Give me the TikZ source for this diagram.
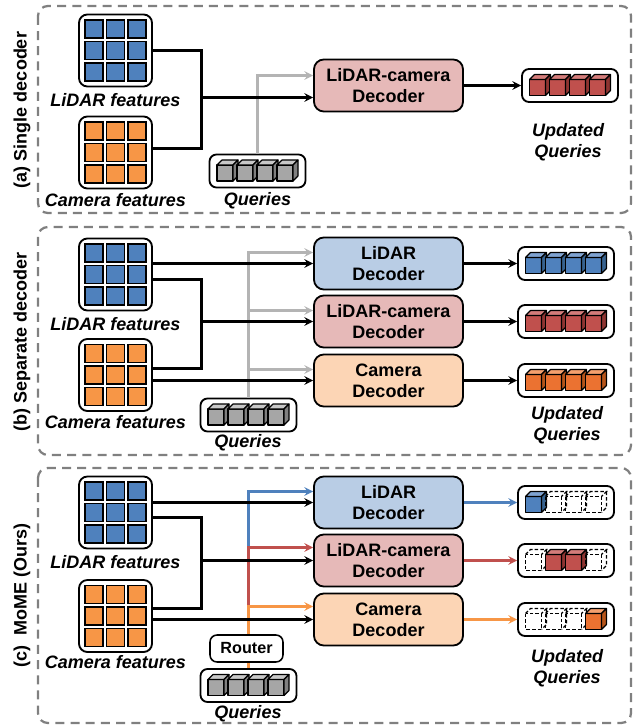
\documentclass[tikz,border=0pt]{standalone}
\usepackage{fontspec}
\setmainfont{Liberation Sans}

\definecolor{lidblue}{HTML}{4F81BD}
\definecolor{camorange}{HTML}{F79646}
\definecolor{fusered}{HTML}{C0504D}
\definecolor{decblue}{HTML}{B9CDE5}
\definecolor{decred}{HTML}{E6B9B8}
\definecolor{decorange}{HTML}{FCD5B5}
\definecolor{qgray}{HTML}{A6A6A6}
\definecolor{qgraylt}{HTML}{C8C8C8}
\definecolor{qgraydk}{HTML}{808080}
\definecolor{arrgray}{HTML}{B4B4B4}
\definecolor{lidbluelt}{HTML}{7FA3D1}
\definecolor{lidbluedk}{HTML}{36628F}
\definecolor{fuseredlt}{HTML}{D47C7A}
\definecolor{fusereddk}{HTML}{8E3431}
\definecolor{cuborange}{HTML}{EB7231}
\definecolor{cuborangelt}{HTML}{F4A06E}
\definecolor{cuborangedk}{HTML}{B65419}

% 3x3 feature grid inside a node
\newcommand{\featgrid}[2]{%
  \foreach \i in {-1,0,1}
    \foreach \j in {-1,0,1}
      \draw[fill=#2, line width=1pt] ([shift={({\i*21.5-9},{\j*21.5-9})}]#1.center) rectangle ++(18,18);}

% query cube number #2 inside node #1
\newcommand{\qcube}[5]{%
  \begin{scope}[shift={(#1.center)}, line width=0.8pt, line join=round]
    \draw[fill=#3] ({-40.5+20*#2},-6) rectangle ++(16,16);
    \draw[fill=#4] ({-40.5+20*#2},-6) -- ++(5,-5) -- ++(16,0) -- ++(-5,5) -- cycle;
    \draw[fill=#5] ({-24.5+20*#2},-6) -- ++(5,-5) -- ++(0,16) -- ++(-5,5) -- cycle;
  \end{scope}}

% empty (dropped) query
\newcommand{\ecube}[2]{%
  \begin{scope}[shift={(#1.center)}, line width=0.8pt, dash pattern=on 2.5pt off 1.5pt]
    \draw ({-40.5+20*#2},-6) rectangle ++(16,16);
    \draw ({-40.5+20*#2},-6) -- ++(5,-5) -- ++(16,0) -- ++(-5,5);
    \draw ({-19.5+20*#2},-11) -- ++(0,16) -- ++(-5,5);
  \end{scope}}

\begin{document}
\begin{tikzpicture}[x=0.025cm, y=-0.025cm, >=stealth,
  every node/.style={font=\fontsize{12.8}{15}\selectfont\bfseries},
  panel/.style={draw=gray, line width=1.6pt, dash pattern=on 6.4pt off 4.4pt, rounded corners=7pt},
  side/.style={rotate=90},
  feat/.style={draw, line width=1.3pt, rounded corners=6pt, fill=white, minimum width=1.825cm, minimum height=1.8cm, inner sep=0},
  dec/.style={draw, line width=1.3pt, rounded corners=7pt, minimum width=3.725cm, minimum height=1.3cm, inner sep=0, align=center},
  qbox/.style={draw, line width=1.3pt, rounded corners=5pt, fill=white, minimum width=2.4cm, minimum height=0.825cm, inner sep=0},
  lbl/.style={font=\fontsize{12.8}{15}\selectfont\bfseries\itshape, align=center},
  wire/.style={line width=1.7pt}]
\useasboundingbox (0,0) rectangle (633,727);

% (a) single decoder
\draw[panel] (38,6) rectangle (631,213);
\node[side] at (22,110) {(a) Single decoder};
\node[feat] (lidA) at (115.5,50.5) {};
\node[feat] (camA) at (115.5,152.5) {};
\featgrid{lidA}{lidblue}
\featgrid{camA}{camorange}
\node[lbl, anchor=base] at (115.5,107) {LiDAR features};
\node[lbl, anchor=base] at (115.5,207) {Camera features};
\node[qbox] (qA) at (257.5,171) {};
\foreach \k in {0,...,3} {\qcube{qA}{\k}{qgray}{qgraylt}{qgraydk}}
\node[lbl, anchor=base] at (257.5,206) {Queries};
\node[dec, fill=decred] (decA) at (388.5,85.5) {LiDAR-camera\\Decoder};
\node[qbox] (outA) at (570,85.5) {};
\foreach \k in {0,...,3} {\qcube{outA}{\k}{fusered}{fuseredlt}{fusereddk}}
\node[lbl] at (568,142.5) {Updated\\Queries};
\coordinate (jA) at (201.5,97.5);
\draw[wire, ->, arrgray] (qA.north) |- ([shift={(0,-10)}]decA.west);
\draw[wire] (lidA.east) -| (jA) |- ([shift={(0,-4)}]camA.east);
\draw[wire, ->] (jA) -- (jA -| decA.west);
\draw[wire, ->] (decA) -- (outA);

% (b) separate decoders
\draw[panel] (38,227) rectangle (631,455);
\node[side] at (22,342) {(b) Separate decoder};
\node[feat] (lidB) at (115.5,274.5) {};
\node[feat] (camB) at (115.5,375) {};
\featgrid{lidB}{lidblue}
\featgrid{camB}{camorange}
\node[lbl, anchor=base] at (115.5,330) {LiDAR features};
\node[lbl, anchor=base] at (115.5,428) {Camera features};
\node[qbox] (qB) at (248.5,415) {};
\foreach \k in {0,...,3} {\qcube{qB}{\k}{qgray}{qgraylt}{qgraydk}}
\node[lbl, anchor=base] at (248,447) {Queries};
\node[dec, fill=decblue] (decL2) at (388.5,263.5) {LiDAR\\Decoder};
\node[dec, fill=decred] (decLC2) at (388.5,321.5) {LiDAR-camera\\Decoder};
\node[dec, fill=decorange] (decC2) at (388.5,380.5) {Camera\\Decoder};
\node[qbox] (outL2) at (566,263.5) {};
\node[qbox] (outLC2) at (566,321.5) {};
\node[qbox] (outC2) at (566,380.5) {};
\foreach \k in {0,...,3} {
  \qcube{outL2}{\k}{lidblue}{lidbluelt}{lidbluedk}
  \qcube{outLC2}{\k}{fusered}{fuseredlt}{fusereddk}
  \qcube{outC2}{\k}{cuborange}{cuborangelt}{cuborangedk}}
\node[lbl] at (567,425.5) {Updated\\Queries};
\coordinate (jB) at (201.5,321.5);
\foreach \d in {decL2,decLC2,decC2}
  \draw[wire, ->, arrgray] (qB.north) |- ([shift={(0,-11)}]\d.west);
\draw[wire, ->] (lidB.east |- decL2.west) -- (decL2.west);
\draw[wire] ([shift={(0,5)}]lidB.east) -| (jB) |- ([shift={(0,-6.5)}]camB.east);
\draw[wire, ->] (jB) -- (decLC2.west);
\draw[wire, ->] (camB.east |- decC2.west) -- (decC2.west);
\draw[wire, ->] (decL2) -- (outL2);
\draw[wire, ->] (decLC2) -- (outLC2);
\draw[wire, ->] (decC2) -- (outC2);

% (c) MoME
\draw[panel] (38,468) rectangle (631,723);
\node[side] at (22,595) {(c)\ \ MoME (Ours)};
\node[feat] (lidC) at (115.5,512.5) {};
\node[feat] (camC) at (115.5,616) {};
\featgrid{lidC}{lidblue}
\featgrid{camC}{camorange}
\node[lbl, anchor=base] at (115.5,568) {LiDAR features};
\node[lbl, anchor=base] at (115.5,668) {Camera features};
\node[qbox] (qC) at (248.5,685.5) {};
\foreach \k in {0,...,3} {\qcube{qC}{\k}{qgray}{qgraylt}{qgraydk}}
\node[lbl, anchor=base] at (248,718) {Queries};
\node[dec, fill=decblue] (decL3) at (388.5,502.5) {LiDAR\\Decoder};
\node[dec, fill=decred] (decLC3) at (388.5,560.5) {LiDAR-camera\\Decoder};
\node[dec, fill=decorange] (decC3) at (388.5,619.5) {Camera\\Decoder};
\node[qbox] (outL3) at (566,502.5) {};
\node[qbox] (outLC3) at (566,560.5) {};
\node[qbox] (outC3) at (566,619.5) {};
\qcube{outL3}{0}{lidblue}{lidbluelt}{lidbluedk}
\foreach \k in {1,2,3} {\ecube{outL3}{\k}}
\ecube{outLC3}{0}
\qcube{outLC3}{1}{fusered}{fuseredlt}{fusereddk}
\qcube{outLC3}{2}{fusered}{fuseredlt}{fusereddk}
\ecube{outLC3}{3}
\foreach \k in {0,1,2} {\ecube{outC3}{\k}}
\qcube{outC3}{3}{cuborange}{cuborangelt}{cuborangedk}
\node[lbl] at (567,668) {Updated\\Queries};
\coordinate (inL) at ([shift={(0,-11)}]decL3.west);
\coordinate (inLC) at ([shift={(0,-13)}]decLC3.west);
\coordinate (inC) at ([shift={(0,-13)}]decC3.west);
\draw[wire, ->, lidblue] (qC.north |- inLC) |- (inL);
\draw[wire, ->, fusered] (qC.north |- inC) |- (inLC);
\draw[wire, ->, camorange] (qC.north) |- (inC);
\node[draw, line width=1.1pt, rounded corners=5pt, fill=white, minimum width=1.825cm, minimum height=0.675cm, inner sep=0, font=\fontsize{11.5}{14}\selectfont\bfseries] (router) at (246.5,648.5) {Router};
\coordinate (jC) at (201.5,560.5);
\draw[wire, ->] (lidC.east |- decL3.west) -- (decL3.west);
\draw[wire] ([shift={(0,5)}]lidC.east) -| (jC) |- ([shift={(0,-7.5)}]camC.east);
\draw[wire, ->] (jC) -- (decLC3.west);
\draw[wire, ->] (camC.east |- decC3.west) -- (decC3.west);
\draw[wire, ->, lidblue] (decL3) -- (outL3);
\draw[wire, ->, fusered] (decLC3) -- (outLC3);
\draw[wire, ->, camorange] (decC3) -- (outC3);

\end{tikzpicture}
\end{document}
